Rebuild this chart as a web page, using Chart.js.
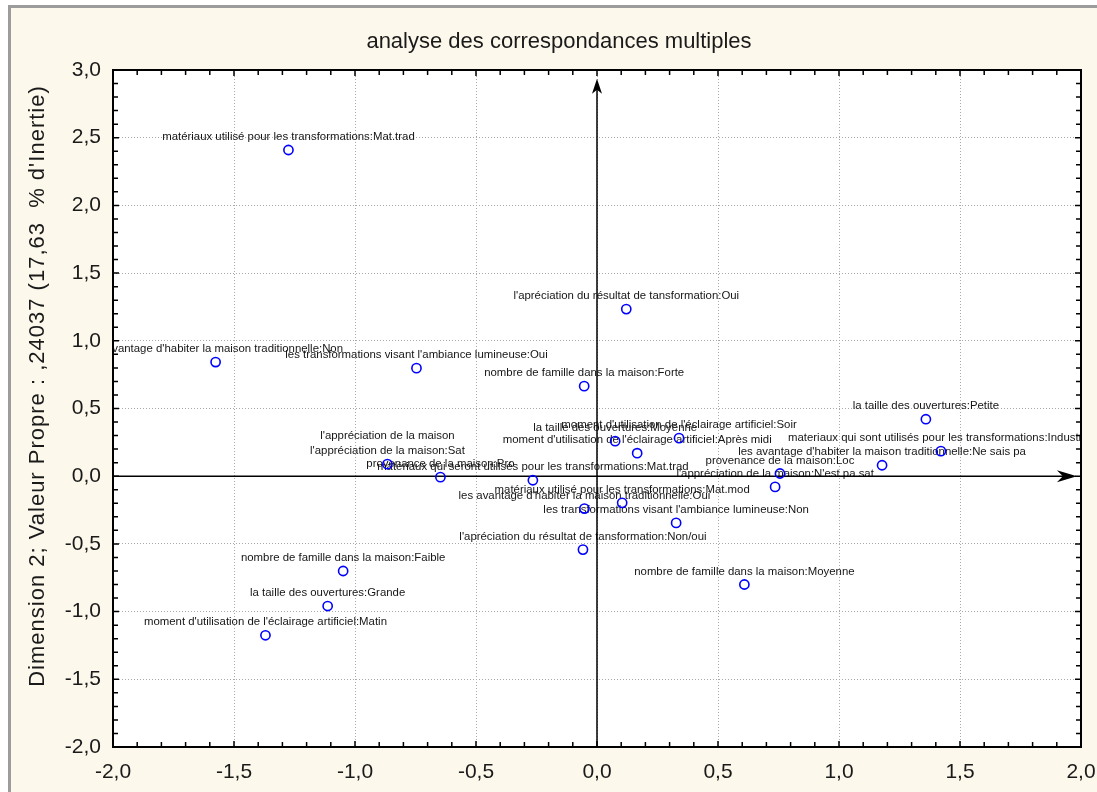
<!DOCTYPE html>
<html lang="fr">
<head>
<meta charset="utf-8">
<title>analyse des correspondances multiples</title>
<script src="https://cdn.jsdelivr.net/npm/chart.js@4.4.0/dist/chart.umd.min.js"></script>
<style>
    html, body { margin: 0; padding: 0; background: #ffffff; overflow: hidden; }
    #frame {
        position: absolute; left: 8px; top: 5px; width: 1120px; height: 820px;
        background: #fdf8ec; border-top: 3px solid #9c9c9c; border-left: 3px solid #9c9c9c;
    }
    #chart { position: absolute; left: 0; top: 0; }
</style>
</head>
<body>
<div id="frame"></div>
<canvas id="chart" width="1097" height="792"></canvas>
<script>
// Modalités (coordonnées sur les dimensions 1 et 2)
const modalites = [
    "matériaux utilisé pour les transformations:Mat.trad",
    "l'apréciation du résultat de tansformation:Oui",
    "les avantage d'habiter la maison traditionnelle:Non",
    "les transformations visant l'ambiance lumineuse:Oui",
    "nombre de famille dans la maison:Forte",
    "la taille des ouvertures:Petite",
    "moment d'utilisation de l'éclairage artificiel:Soir",
    "la taille des ouvertures:Moyenne",
    "moment d'utilisation de l'éclairage artificiel:Après midi",
    "materiaux qui sont utilisés pour les transformations:Industriel",
    "les avantage d'habiter la maison traditionnelle:Ne sais pa",
    "provenance de la maison:Loc",
    "l'appréciation de la maison:N'est pa sat",
    ["l'appréciation de la maison", "l'appréciation de la maison:Sat"],
    "provenance de la maison:Pro",
    "matériaux qui seront utilisés pour les transformations:Mat.trad",
    "les avantage d'habiter la maison traditionnelle:Oui",
    "matériaux utilisé pour les transformations:Mat.mod",
    "les transformations visant l'ambiance lumineuse:Non",
    "l'apréciation du résultat de tansformation:Non/oui",
    "nombre de famille dans la maison:Moyenne",
    "nombre de famille dans la maison:Faible",
    "la taille des ouvertures:Grande",
    "moment d'utilisation de l'éclairage artificiel:Matin"
];
const dim1 = [-1.275, 0.121, -1.576, -0.746, -0.053, 1.359, 0.339, 0.075, 0.166, 1.421, 1.178, 0.756,
              0.736, -0.866, -0.647, -0.265, -0.052, 0.104, 0.327, -0.058, 0.609, -1.049, -1.113, -1.370];
const dim2 = [2.409, 1.234, 0.843, 0.798, 0.665, 0.421, 0.281, 0.259, 0.170, 0.185, 0.081, 0.020,
              -0.079, 0.089, -0.007, -0.030, -0.239, -0.197, -0.345, -0.542, -0.800, -0.700, -0.959, -1.175];

const titre = 'analyse des correspondances multiples';
const titreAxeY = "Dimension 2; Valeur Propre : ,24037 (17,63  % d'Inertie)";
const xMin = -2, xMax = 2, yMin = -2, yMax = 3;
const xFleche = 1.983, yFleche = 2.935;

const police = "'Liberation Sans', Arial, sans-serif";

function estMajeur(v) {
    return Math.abs(v * 2 - Math.round(v * 2)) < 1e-6;
}
function formatTick(v) {
    return estMajeur(v) ? v.toFixed(1).replace('.', ',') : '';
}

// Fond blanc, étiquettes, axes fléchés, graduations internes et titres
const decorPlugin = {
    id: 'decor',
    beforeDraw(chart) {
        const { ctx, chartArea: a } = chart;
        ctx.save();
        ctx.fillStyle = '#ffffff';
        ctx.fillRect(a.left, a.top, a.right - a.left, a.bottom - a.top);
        ctx.restore();
    },
    beforeDatasetsDraw(chart) {
        const { ctx, chartArea: a, scales: { x, y } } = chart;

        // étiquettes des modalités, coupées au bord du graphique
        ctx.save();
        ctx.beginPath();
        ctx.rect(a.left, a.top, a.right - a.left, a.bottom - a.top);
        ctx.clip();
        ctx.font = '11.4px ' + police;
        ctx.fillStyle = '#151515';
        ctx.textAlign = 'center';
        ctx.textBaseline = 'middle';
        modalites.forEach((lab, i) => {
            const px = x.getPixelForValue(dim1[i]);
            const py = y.getPixelForValue(dim2[i]);
            const lignes = Array.isArray(lab) ? lab : [lab];
            lignes.slice().reverse().forEach((l, k) => {
                ctx.fillText(l, px, py - 13 - k * 15);
            });
        });
        ctx.restore();

        // axes passant par l'origine
        const x0 = x.getPixelForValue(0);
        const y0 = y.getPixelForValue(0);
        const tipY = y.getPixelForValue(yFleche);
        const tipX = x.getPixelForValue(xFleche);
        ctx.save();
        ctx.strokeStyle = '#000';
        ctx.fillStyle = '#000';
        ctx.lineWidth = 1.5;
        ctx.beginPath();
        ctx.moveTo(x0, a.bottom);
        ctx.lineTo(x0, tipY + 4);
        ctx.moveTo(a.left, y0);
        ctx.lineTo(tipX - 4, y0);
        ctx.stroke();
        // pointes de flèche
        ctx.beginPath();
        ctx.moveTo(x0, tipY);
        ctx.lineTo(x0 - 5, tipY + 15);
        ctx.lineTo(x0, tipY + 11);
        ctx.lineTo(x0 + 5, tipY + 15);
        ctx.closePath();
        ctx.fill();
        ctx.beginPath();
        ctx.moveTo(tipX, y0);
        ctx.lineTo(tipX - 20, y0 - 6);
        ctx.lineTo(tipX - 14, y0);
        ctx.lineTo(tipX - 20, y0 + 6);
        ctx.closePath();
        ctx.fill();

        // graduations internes sur les quatre côtés
        ctx.lineWidth = 1.5;
        ctx.beginPath();
        x.ticks.forEach(t => {
            const px = x.getPixelForValue(t.value);
            const len = estMajeur(t.value) ? 6 : 5;
            ctx.moveTo(px, a.bottom); ctx.lineTo(px, a.bottom - len);
            ctx.moveTo(px, a.top); ctx.lineTo(px, a.top + len);
        });
        y.ticks.forEach(t => {
            const py = y.getPixelForValue(t.value);
            const len = estMajeur(t.value) ? 6 : 5;
            ctx.moveTo(a.left, py); ctx.lineTo(a.left + len, py);
            ctx.moveTo(a.right, py); ctx.lineTo(a.right - len, py);
        });
        ctx.stroke();

        // cadre
        ctx.lineWidth = 2;
        ctx.strokeRect(a.left, a.top, a.right - a.left, a.bottom - a.top);
        ctx.restore();
    },
    afterDraw(chart) {
        const { ctx } = chart;
        ctx.save();
        ctx.fillStyle = '#1a1a1a';
        ctx.textAlign = 'center';
        ctx.textBaseline = 'middle';
        ctx.font = '22px ' + police;
        ctx.fillText(titre, 559, 42);
        // titre de l'axe vertical
        ctx.translate(38, 386);
        ctx.rotate(-Math.PI / 2);
        ctx.letterSpacing = '1px';
        ctx.fillText(titreAxeY, 0, 0);
        ctx.restore();
    }
};

const grilleCouleur = ctx => (ctx.tick && estMajeur(ctx.tick.value)) ? '#a9a9a9' : 'rgba(0,0,0,0)';

const ctx = document.getElementById('chart').getContext('2d');
new Chart(ctx, {
    type: 'scatter',
    data: {
        datasets: [{
            data: dim1.map((v, i) => ({ x: v, y: dim2[i] })),
            pointStyle: 'circle',
            pointRadius: 4.6,
            pointBorderWidth: 1.6,
            pointBorderColor: '#0000ff',
            pointBackgroundColor: 'rgba(255,255,255,0)'
        }]
    },
    options: {
        responsive: false,
        devicePixelRatio: 1,
        animation: false,
        events: [],
        layout: { padding: { top: 70, left: 21, right: 16, bottom: 0 } },
        plugins: {
            legend: { display: false },
            title: { display: false },
            tooltip: { enabled: false }
        },
        scales: {
            x: {
                type: 'linear',
                min: xMin,
                max: xMax,
                afterFit(scale) {
                    scale.height = 45;
                    scale.paddingLeft = 0;
                    scale.paddingRight = 0;
                },
                ticks: {
                    stepSize: 0.1,
                    autoSkip: false,
                    maxRotation: 0,
                    padding: 13,
                    color: '#1a1a1a',
                    font: { family: police, size: 21 },
                    callback: formatTick
                },
                grid: { drawTicks: false, color: grilleCouleur, lineWidth: 1 },
                border: { display: false, dash: [1, 2] }
            },
            y: {
                type: 'linear',
                min: yMin,
                max: yMax,
                afterFit(scale) {
                    scale.width = 92;
                    scale.paddingTop = 0;
                    scale.paddingBottom = 0;
                },
                ticks: {
                    stepSize: 0.1,
                    autoSkip: false,
                    padding: 12,
                    color: '#1a1a1a',
                    font: { family: police, size: 21 },
                    callback: formatTick
                },
                grid: { drawTicks: false, color: grilleCouleur, lineWidth: 1 },
                border: { display: false, dash: [1, 2] }
            }
        }
    },
    plugins: [decorPlugin]
});
</script>
</body>
</html>
